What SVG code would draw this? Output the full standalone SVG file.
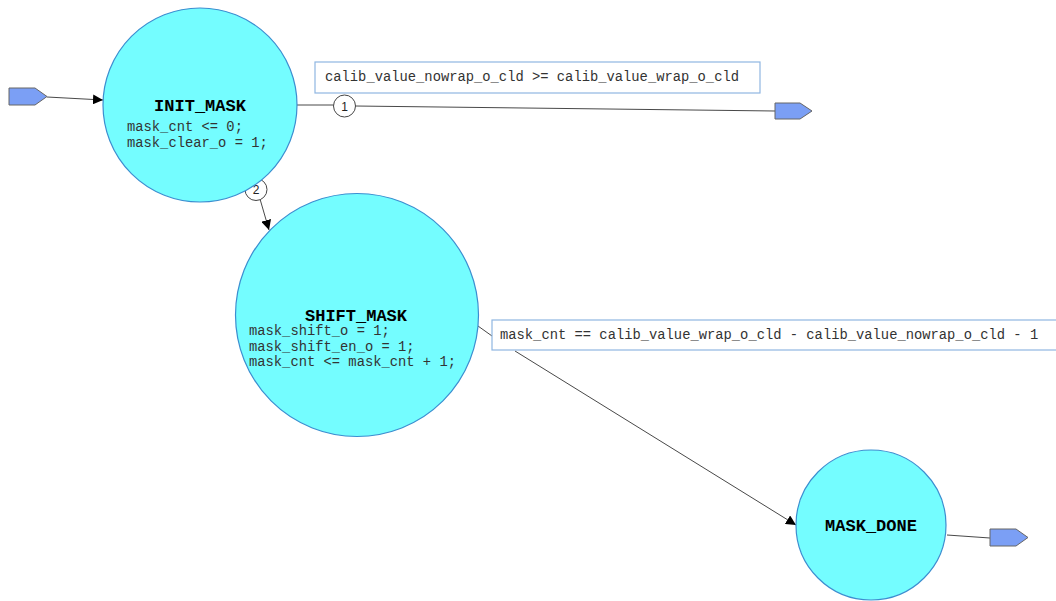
<svg xmlns="http://www.w3.org/2000/svg" width="1056" height="601" viewBox="0 0 1056 601">
<defs>
<style>
.st{fill:#74fdff;stroke:#3c8ed0;stroke-width:1.2}
.t{font-family:"Liberation Mono","DejaVu Sans Mono",monospace;font-size:17px;font-weight:bold;fill:#000;text-anchor:middle}
.a{font-family:"Liberation Mono","DejaVu Sans Mono",monospace;font-size:13.8px;fill:#333}
.lb{fill:#fff;stroke:#8fb6e2;stroke-width:1.2}
.pt{fill:#7b9ff5;stroke:#666;stroke-width:1}
.ln{fill:none;stroke:#333;stroke-width:0.9}
.nc{fill:#fff;stroke:#444;stroke-width:1}
.nt{font-family:"Liberation Sans",Arial,sans-serif;font-size:12px;fill:#222;text-anchor:middle}
</style>
<marker id="ah" viewBox="0 0 10 10" refX="10" refY="5" markerWidth="10" markerHeight="10" markerUnits="userSpaceOnUse" orient="auto">
<path d="M0,0 L10,5 L0,10 z" fill="#000"/>
</marker>
</defs>
<g id="connectors">
<path class="ln" d="M47,97 L103,100" marker-end="url(#ah)"/>
<path class="ln" d="M297,105 L334,105"/>
<path class="ln" d="M355,106 L775,111"/>
<path class="ln" d="M260,199 L269,230" marker-end="url(#ah)"/>
<path class="ln" d="M478,326 L492,336"/>
<path class="ln" d="M515,351 L796,525" marker-end="url(#ah)"/>
<path class="ln" d="M947,535 L990,538"/>
<g id="t1">
<circle class="nc" cx="344.5" cy="106" r="11"/>
<text class="nt" x="344.5" y="110.5">1</text>
</g>
<g id="t2">
<circle class="nc" cx="256" cy="189.5" r="11"/>
<text class="nt" x="256" y="194">2</text>
</g>
</g>
<g id="entry">
<path class="pt" d="M9,88 L35,88 L47,96.5 L35,105 L9,105 z"/>
</g>
<g id="exit1">
<path class="pt" d="M775,103 L800,103 L812,111 L800,119 L775,119 z"/>
</g>
<g id="exit2">
<path class="pt" d="M990,529 L1016,529 L1028,537.5 L1016,546 L990,546 z"/>
</g>
<g id="INIT_MASK">
<circle class="st" cx="200" cy="105" r="97"/>
<text class="t" x="200" y="111">INIT_MASK</text>
<text class="a" x="127" y="131">mask_cnt &lt;= 0;</text>
<text class="a" x="127" y="147">mask_clear_o = 1;</text>
</g>
<g id="SHIFT_MASK">
<circle class="st" cx="357" cy="315" r="121.5"/>
<text class="t" x="356" y="321">SHIFT_MASK</text>
<text class="a" x="249" y="335">mask_shift_o = 1;</text>
<text class="a" x="249" y="351">mask_shift_en_o = 1;</text>
<text class="a" x="249" y="366">mask_cnt &lt;= mask_cnt + 1;</text>
</g>
<g id="MASK_DONE">
<circle class="st" cx="871" cy="525" r="75"/>
<text class="t" x="871" y="531">MASK_DONE</text>
</g>
<g id="label1">
<rect class="lb" x="315" y="62" width="445" height="31"/>
<text class="a" x="325" y="81">calib_value_nowrap_o_cld &gt;= calib_value_wrap_o_cld</text>
</g>
<g id="label2">
<rect class="lb" x="492" y="320" width="570" height="30"/>
<text class="a" x="500" y="339">mask_cnt == calib_value_wrap_o_cld - calib_value_nowrap_o_cld - 1</text>
</g>
</svg>
